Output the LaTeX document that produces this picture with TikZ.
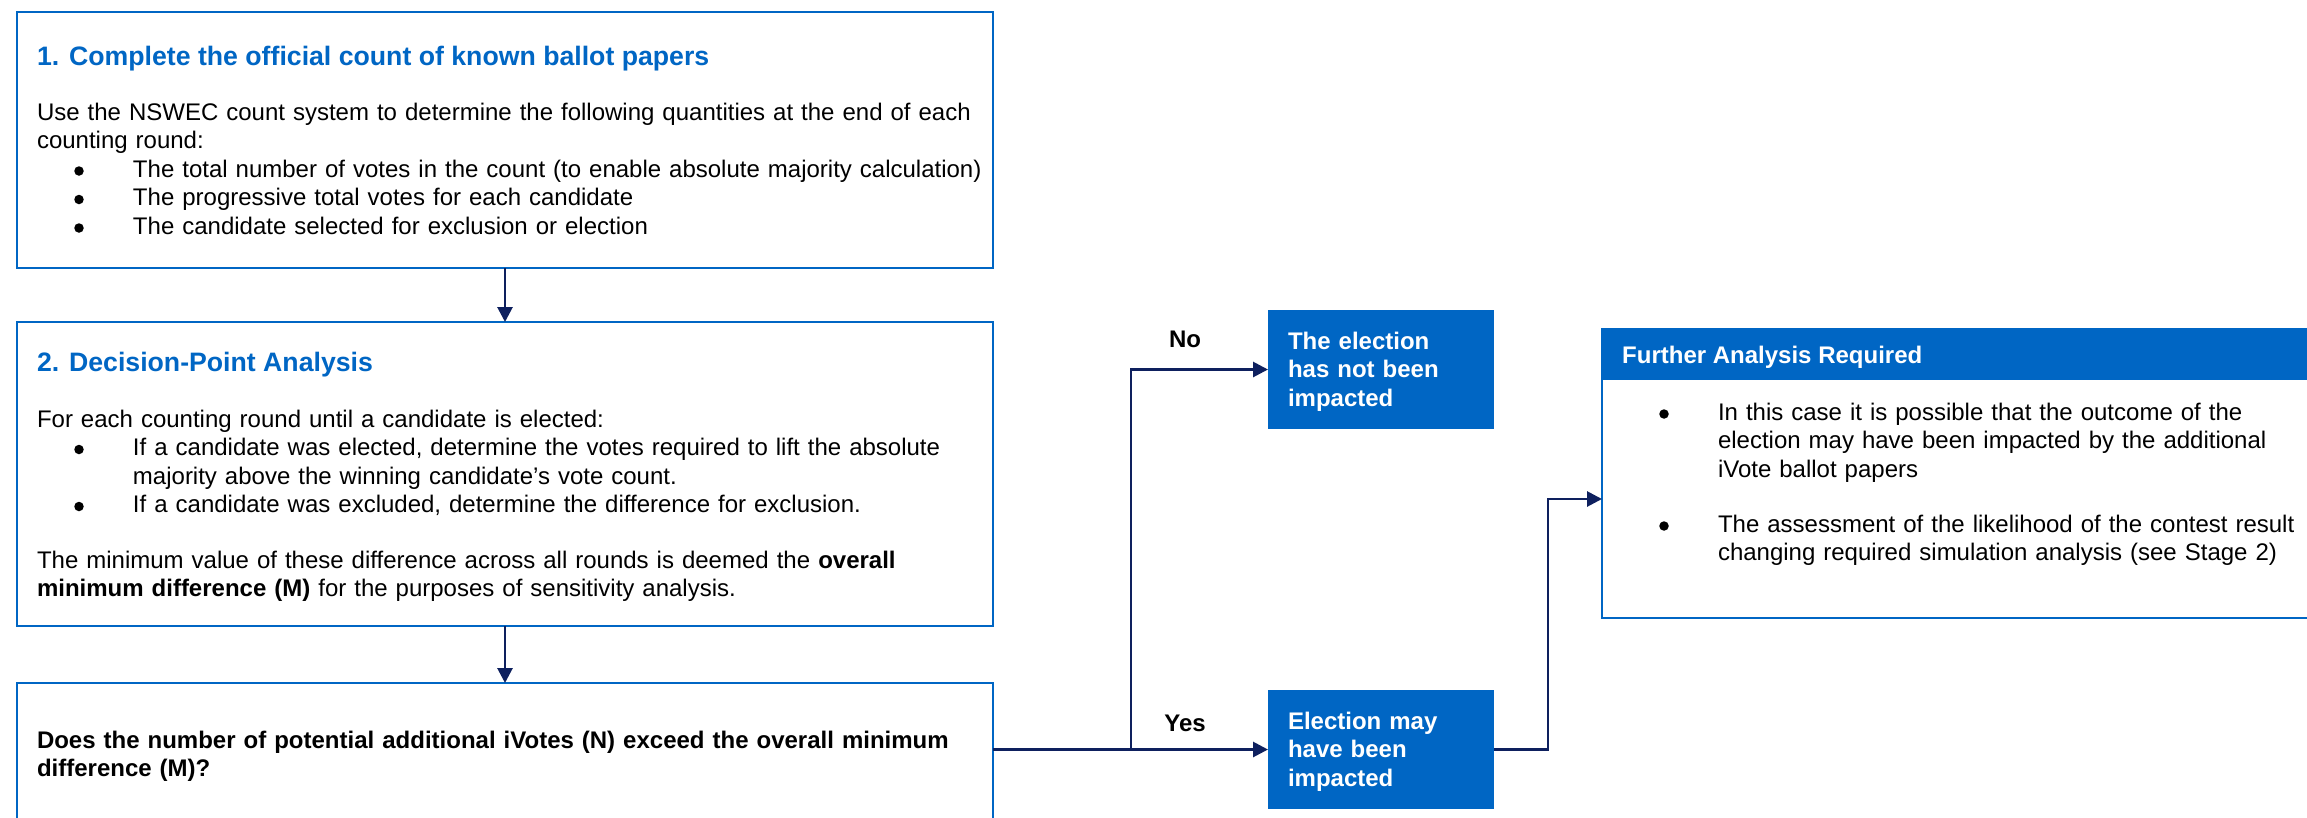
\documentclass[tikz,border=0pt]{standalone}
\usepackage{fontspec}
\setmainfont{Liberation Sans}
\usetikzlibrary{arrows.meta}
\definecolor{nswblue}{RGB}{0,102,196}
\definecolor{navy}{RGB}{14,32,94}
\newcommand{\bulitem}{\hspace*{37.25pt}\makebox[58.75pt][l]{\tikz[baseline=0pt]\fill[black] (4.75pt,6pt) circle (4.75pt);}}
\newcommand{\contline}{\hspace*{96pt}}
\newcommand{\topstrut}{\rule{0pt}{22pt}}
\tikzset{
  whitebox/.style={draw=nswblue, line width=2pt, fill=white, inner sep=0pt, outer sep=0pt},
  bluebox/.style={fill=nswblue, inner sep=0pt, outer sep=0pt},
  bodytext/.style={anchor=north west, inner sep=0pt, outer sep=0pt, text width=1000pt, align=left, font=\fontsize{24}{28.5}\selectfont},
  titletext/.style={anchor=north west, inner sep=0pt, outer sep=0pt, text=nswblue, font=\fontsize{26.67}{30}\selectfont\bfseries},
  whitetext/.style={anchor=north west, inner sep=0pt, outer sep=0pt, text=white, text width=300pt, align=left, font=\fontsize{24}{28.5}\selectfont\bfseries},
  choicelabel/.style={anchor=base, inner sep=0pt, font=\fontsize{24}{28}\selectfont\bfseries},
  arr/.style={draw=navy, line width=2.8pt, -{Triangle[length=15pt,width=15pt]}},
  plainline/.style={draw=navy, line width=2.8pt}
}
\begin{document}
\begin{tikzpicture}[x=1pt,y=-1pt]
\useasboundingbox (0,0) rectangle (2307,817);
\clip (0,0) rectangle (2307,817);
% boxes
\node[whitebox, minimum width=976pt, minimum height=256pt] (b1) at (505,140) {};
\node[whitebox, minimum width=976pt, minimum height=304pt] (b2) at (505,474) {};
\node[whitebox, minimum width=976pt, minimum height=157pt] (b3) at (505,761.5) {};
\node[bluebox, minimum width=226pt, minimum height=119pt] (no) at (1381,369.5) {};
\node[bluebox, minimum width=226pt, minimum height=119pt] (yes) at (1381,749.5) {};
\node[whitebox, minimum width=728pt, minimum height=289pt] (fa) at (1966,473.5) {};
\node[bluebox, anchor=north west, minimum width=728pt, minimum height=51pt] (fahead) at (fa.north west) {};
\draw[draw=nswblue, line width=2pt] (fa.south east) rectangle (fa.north west);
% texts
\node[titletext] (t1) at (37,43) {\topstrut 1. Complete the official count of known ballot papers};
\node[bodytext] (x1) at (37,98) {\topstrut Use the NSWEC count system to determine the following quantities at the end of each\\
counting round:\\
\bulitem The total number of votes in the count (to enable absolute majority calculation)\\
\bulitem The progressive total votes for each candidate\\
\bulitem The candidate selected for exclusion or election};
\node[titletext] (t2) at (37,349) {\topstrut 2. Decision-Point Analysis};
\node[bodytext] (x2) at (37,405) {\topstrut For each counting round until a candidate is elected:\\
\bulitem If a candidate was elected, determine the votes required to lift the absolute\\
\contline majority above the winning candidate’s vote count.\\
\bulitem If a candidate was excluded, determine the difference for exclusion.\\[27pt]
The minimum value of these difference across all rounds is deemed the \textbf{overall}\\
\textbf{minimum difference (M)} for the purposes of sensitivity analysis.};
\node[bodytext, font=\fontsize{24}{28}\selectfont\bfseries] (x3) at (37,726) {\topstrut Does the number of potential additional iVotes (N) exceed the overall minimum\\
difference (M)?};
\node[whitetext] (nt) at (1288,327) {\topstrut The election\\has not been\\impacted};
\node[whitetext] (yt) at (1288,707) {\topstrut Election may\\have been\\impacted};
\node[anchor=north west, inner sep=0pt, text=white, font=\fontsize{24}{28}\selectfont\bfseries] (ht) at (1622,341) {\topstrut Further Analysis Required};
\node[bodytext] (x4) at (1622,398) {\topstrut\bulitem In this case it is possible that the outcome of the\\
\contline election may have been impacted by the additional\\
\contline iVote ballot papers\\[26.5pt]
\bulitem The assessment of the likelihood of the contest result\\
\contline changing required simulation analysis (see Stage 2)};
\node[choicelabel] (nolab) at (1185,347) {No};
\node[choicelabel] (yeslab) at (1185,731) {Yes};
% connectors
\draw[arr] (b1.south) -- (b2.north);
\draw[arr] (b2.south) -- (b3.north);
\coordinate (j) at (1131,749.5);
\draw[arr] (b3.east |- yes.west) -- (yes.west);
\draw[arr] (j) |- (no.west);
\draw[arr] (yes.east) -- ++(54,0) |- ([yshift=-25.5pt]fa.west);
\end{tikzpicture}
\end{document}
